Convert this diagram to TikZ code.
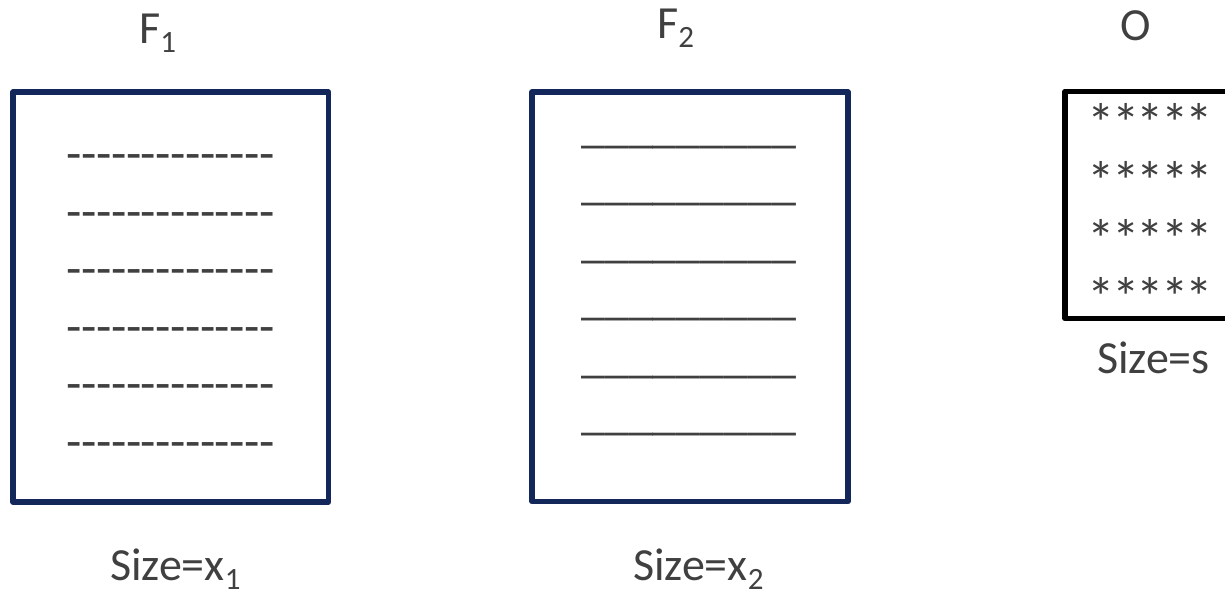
\documentclass[tikz,border=0pt]{standalone}
\usepackage{fontspec}
\setmainfont{Carlito}
\definecolor{navy}{HTML}{14275A}
\definecolor{txt}{HTML}{404040}
\definecolor{rule}{HTML}{404040}
\newcommand\hyph{\makebox[14.8pt]{-}}
\newcommand\hyrow{\hyph\hyph\hyph\hyph\hyph\hyph\hyph\hyph\hyph\hyph\hyph\hyph\hyph\hyph}
\newcommand\unrow{\_\_\_\_\_\_\_\_\_}
\newcommand\astk{\makebox[24.5pt]{*}}
\newcommand\astrow{\astk\astk\astk\astk\astk}
\newcommand\mysub[1]{\raisebox{-9.5pt}{\fontsize{31pt}{31pt}\selectfont #1}}
\tikzset{
  lbl/.style={anchor=base west,inner sep=0,text=txt,font=\fontsize{46pt}{46pt}\selectfont},
  fill1/.style={anchor=base west,inner sep=0,text=rule,font=\fontsize{48pt}{48pt}\selectfont},
  hyfill/.style={fill1,font=\fontsize{50pt}{50pt}\selectfont},
  astfill/.style={fill1,font=\fontsize{55pt}{55pt}\selectfont},
  filebox/.style={draw=navy,line width=5.5pt,line join=round},
  outbox/.style={draw=black,line width=5.5pt,line join=round}
}
\begin{document}
\begin{tikzpicture}[x=1pt,y=-1pt]
\useasboundingbox (0,0) rectangle (1225,595);
\clip (0,0) rectangle (1225,595);
% boxes
\draw[filebox] (13,92) rectangle (328.5,502);
\draw[filebox] (532,92) rectangle (848,501.5);
\draw[outbox] (1240,91.5) -- (1065,91.5) -- (1065,318.5) -- (1240,318.5);
% titles
\node[lbl] (f1) at (139,43) {F\mysub{1}};
\node[lbl] (f2) at (657,38) {F\mysub{2}};
\node[lbl] (o) at (1120,40) {O};
% sizes
\node[lbl] (s1) at (110,580) {Size=x\mysub{1}};
\node[lbl] (s2) at (633,580) {Size=x\mysub{2}};
\node[lbl] (ss) at (1097,373) {Size=s};
% F1 content
\foreach \i in {0,...,5} {
  \node[hyfill] (h\i) at (67,170.5+57.5*\i) {\hyrow};
}
% F2 content
\foreach \i in {0,...,5} {
  \node[fill1] (u\i) at (581,142+57.5*\i) {\unrow};
}
% O content
\foreach \i in {0,...,3} {
  \node[astfill] (a\i) at (1089,142+58*\i) {\astrow};
}
\end{tikzpicture}
\end{document}
